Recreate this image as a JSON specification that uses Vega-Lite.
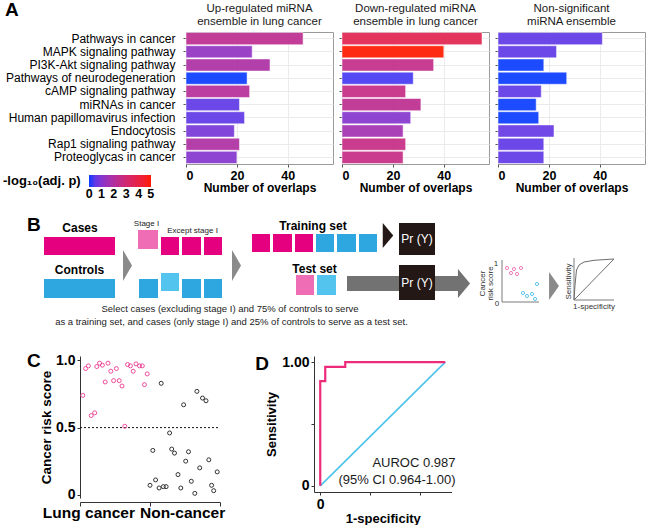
{
  "$schema": "https://vega.github.io/schema/vega-lite/v6.json",
  "autosize": {"type": "none"},
  "padding": {"left": 80, "top": 32, "right": 568, "bottom": 493},
  "background": "white",
  "config": {"font": "Liberation Sans", "view": {"stroke": null}},
  "columns": 4,
  "spacing": {"row": 10, "column": 9},
  "align": "each",
  "bounds": "flush",
  "resolve": {"scale": {"color": "independent", "shape": "independent", "size": "independent"}},
  "datasets": {
    "bars": [
      {"ensemble": "up", "pathway": "Pathways in cancer", "overlaps": 46, "logp": 2.35},
      {"ensemble": "up", "pathway": "MAPK signaling pathway", "overlaps": 26, "logp": 1.25},
      {"ensemble": "up", "pathway": "PI3K-Akt signaling pathway", "overlaps": 33, "logp": 1.9},
      {"ensemble": "up", "pathway": "Pathways of neurodegeneration", "overlaps": 24, "logp": 0},
      {"ensemble": "up", "pathway": "cAMP signaling pathway", "overlaps": 25, "logp": 2.15},
      {"ensemble": "up", "pathway": "miRNAs in cancer", "overlaps": 21, "logp": 0.5},
      {"ensemble": "up", "pathway": "Human papillomavirus infection", "overlaps": 23, "logp": 0.5},
      {"ensemble": "up", "pathway": "Endocytosis", "overlaps": 19, "logp": 0.8},
      {"ensemble": "up", "pathway": "Rap1 signaling pathway", "overlaps": 21, "logp": 1.95},
      {"ensemble": "up", "pathway": "Proteoglycas in cancer", "overlaps": 20, "logp": 1.0},
      {"ensemble": "down", "pathway": "Pathways in cancer", "overlaps": 55, "logp": 3.7},
      {"ensemble": "down", "pathway": "MAPK signaling pathway", "overlaps": 40, "logp": 5},
      {"ensemble": "down", "pathway": "PI3K-Akt signaling pathway", "overlaps": 36, "logp": 2.5},
      {"ensemble": "down", "pathway": "Pathways of neurodegeneration", "overlaps": 28, "logp": 0.25},
      {"ensemble": "down", "pathway": "cAMP signaling pathway", "overlaps": 25, "logp": 2.6},
      {"ensemble": "down", "pathway": "miRNAs in cancer", "overlaps": 31, "logp": 2.35},
      {"ensemble": "down", "pathway": "Human papillomavirus infection", "overlaps": 27, "logp": 1.0},
      {"ensemble": "down", "pathway": "Endocytosis", "overlaps": 24, "logp": 1.65},
      {"ensemble": "down", "pathway": "Rap1 signaling pathway", "overlaps": 25, "logp": 2.6},
      {"ensemble": "down", "pathway": "Proteoglycas in cancer", "overlaps": 24, "logp": 2.6},
      {"ensemble": "ns", "pathway": "Pathways in cancer", "overlaps": 41, "logp": 0.5},
      {"ensemble": "ns", "pathway": "MAPK signaling pathway", "overlaps": 23, "logp": 0.5},
      {"ensemble": "ns", "pathway": "PI3K-Akt signaling pathway", "overlaps": 18, "logp": 0},
      {"ensemble": "ns", "pathway": "Pathways of neurodegeneration", "overlaps": 27, "logp": 0},
      {"ensemble": "ns", "pathway": "cAMP signaling pathway", "overlaps": 17, "logp": 0.5},
      {"ensemble": "ns", "pathway": "miRNAs in cancer", "overlaps": 15, "logp": 0},
      {"ensemble": "ns", "pathway": "Human papillomavirus infection", "overlaps": 16, "logp": 0},
      {"ensemble": "ns", "pathway": "Endocytosis", "overlaps": 22, "logp": 0.55},
      {"ensemble": "ns", "pathway": "Rap1 signaling pathway", "overlaps": 18, "logp": 0.5},
      {"ensemble": "ns", "pathway": "Proteoglycas in cancer", "overlaps": 18, "logp": 0.5}
    ],
    "scores": [
      {"group": "Lung cancer", "pos": 0.04, "score": 0.74},
      {"group": "Lung cancer", "pos": 0.08, "score": 0.94},
      {"group": "Lung cancer", "pos": 0.12, "score": 0.96},
      {"group": "Lung cancer", "pos": 0.16, "score": 0.59},
      {"group": "Lung cancer", "pos": 0.21, "score": 0.61},
      {"group": "Lung cancer", "pos": 0.24, "score": 0.955},
      {"group": "Lung cancer", "pos": 0.28, "score": 0.98},
      {"group": "Lung cancer", "pos": 0.32, "score": 0.965},
      {"group": "Lung cancer", "pos": 0.36, "score": 0.84},
      {"group": "Lung cancer", "pos": 0.40, "score": 0.98},
      {"group": "Lung cancer", "pos": 0.44, "score": 0.92},
      {"group": "Lung cancer", "pos": 0.48, "score": 0.85},
      {"group": "Lung cancer", "pos": 0.52, "score": 0.94},
      {"group": "Lung cancer", "pos": 0.56, "score": 0.85},
      {"group": "Lung cancer", "pos": 0.60, "score": 0.81},
      {"group": "Lung cancer", "pos": 0.64, "score": 0.51},
      {"group": "Lung cancer", "pos": 0.68, "score": 0.97},
      {"group": "Lung cancer", "pos": 0.72, "score": 0.96},
      {"group": "Lung cancer", "pos": 0.76, "score": 0.92},
      {"group": "Lung cancer", "pos": 0.80, "score": 0.975},
      {"group": "Lung cancer", "pos": 0.85, "score": 0.96},
      {"group": "Lung cancer", "pos": 0.89, "score": 0.96},
      {"group": "Lung cancer", "pos": 0.92, "score": 0.82},
      {"group": "Lung cancer", "pos": 0.96, "score": 0.90},
      {"group": "Non-cancer", "pos": 1.00, "score": 0.07},
      {"group": "Non-cancer", "pos": 1.04, "score": 0.33},
      {"group": "Non-cancer", "pos": 1.08, "score": 0.11},
      {"group": "Non-cancer", "pos": 1.13, "score": 0.05},
      {"group": "Non-cancer", "pos": 1.16, "score": 0.83},
      {"group": "Non-cancer", "pos": 1.19, "score": 0.06},
      {"group": "Non-cancer", "pos": 1.23, "score": 0.06},
      {"group": "Non-cancer", "pos": 1.28, "score": 0.46},
      {"group": "Non-cancer", "pos": 1.31, "score": 0.34},
      {"group": "Non-cancer", "pos": 1.35, "score": 0.31},
      {"group": "Non-cancer", "pos": 1.40, "score": 0.15},
      {"group": "Non-cancer", "pos": 1.44, "score": 0.05},
      {"group": "Non-cancer", "pos": 1.48, "score": 0.67},
      {"group": "Non-cancer", "pos": 1.51, "score": 0.25},
      {"group": "Non-cancer", "pos": 1.55, "score": 0.32},
      {"group": "Non-cancer", "pos": 1.59, "score": 0.10},
      {"group": "Non-cancer", "pos": 1.64, "score": 0.01},
      {"group": "Non-cancer", "pos": 1.67, "score": 0.77},
      {"group": "Non-cancer", "pos": 1.71, "score": 0.20},
      {"group": "Non-cancer", "pos": 1.75, "score": 0.72},
      {"group": "Non-cancer", "pos": 1.80, "score": 0.70},
      {"group": "Non-cancer", "pos": 1.84, "score": 0.26},
      {"group": "Non-cancer", "pos": 1.88, "score": 0.07},
      {"group": "Non-cancer", "pos": 1.91, "score": 0.03},
      {"group": "Non-cancer", "pos": 1.96, "score": 0.17}
    ],
    "roc": [
      {"step": 0, "fpr": 0, "tpr": 0},
      {"step": 1, "fpr": 0, "tpr": 0.846},
      {"step": 2, "fpr": 0.04, "tpr": 0.846},
      {"step": 3, "fpr": 0.04, "tpr": 0.962},
      {"step": 4, "fpr": 0.2, "tpr": 0.962},
      {"step": 5, "fpr": 0.2, "tpr": 1},
      {"step": 6, "fpr": 1, "tpr": 1}
    ],
    "diag": [
      {"fpr": 0, "tpr": 0},
      {"fpr": 1, "tpr": 1}
    ],
    "boxes": [
      {"part": "case", "x0": 44, "x1": 115, "y0": 237, "y1": 255},
      {"part": "ctrl", "x0": 44, "x1": 115, "y0": 279, "y1": 298},
      {"part": "case1", "x0": 138, "x1": 158, "y0": 230, "y1": 249},
      {"part": "case", "x0": 161, "x1": 179, "y0": 237, "y1": 255},
      {"part": "case", "x0": 182, "x1": 201, "y0": 237, "y1": 255},
      {"part": "case", "x0": 204, "x1": 222, "y0": 237, "y1": 255},
      {"part": "ctrl", "x0": 139, "x1": 158, "y0": 279, "y1": 298},
      {"part": "ctrl1", "x0": 161, "x1": 179, "y0": 273, "y1": 291},
      {"part": "ctrl", "x0": 182, "x1": 201, "y0": 279, "y1": 298},
      {"part": "ctrl", "x0": 204, "x1": 222, "y0": 279, "y1": 298},
      {"part": "case", "x0": 252, "x1": 270, "y0": 234, "y1": 252},
      {"part": "case", "x0": 273, "x1": 292, "y0": 234, "y1": 252},
      {"part": "case", "x0": 295, "x1": 313, "y0": 234, "y1": 252},
      {"part": "ctrl", "x0": 316, "x1": 334, "y0": 234, "y1": 252},
      {"part": "ctrl", "x0": 337, "x1": 356, "y0": 234, "y1": 252},
      {"part": "ctrl", "x0": 359, "x1": 377, "y0": 234, "y1": 252},
      {"part": "case1", "x0": 296, "x1": 314, "y0": 275, "y1": 295},
      {"part": "ctrl1", "x0": 317, "x1": 336, "y0": 275, "y1": 295},
      {"part": "arrow", "x0": 347, "x1": 459, "y0": 276, "y1": 291},
      {"part": "model", "x0": 399, "x1": 435, "y0": 223, "y1": 255},
      {"part": "model", "x0": 399, "x1": 435, "y0": 265, "y1": 300}
    ],
    "tris": [
      {"tri": "grey1", "cx": 127.5, "cy": 265.5},
      {"tri": "grey2", "cx": 236.5, "cy": 265.5},
      {"tri": "black", "cx": 388, "cy": 235.5},
      {"tri": "arrow", "cx": 464, "cy": 283.5},
      {"tri": "grey3", "cx": 554, "cy": 286}
    ],
    "miniPts": [
      {"grp": "case", "x": 507, "y": 268},
      {"grp": "case", "x": 511, "y": 273},
      {"grp": "case", "x": 514, "y": 269},
      {"grp": "case", "x": 517, "y": 274},
      {"grp": "case", "x": 521, "y": 268},
      {"grp": "ctrl", "x": 523, "y": 293},
      {"grp": "ctrl", "x": 527, "y": 296},
      {"grp": "ctrl", "x": 532, "y": 294},
      {"grp": "ctrl", "x": 535, "y": 299},
      {"grp": "ctrl", "x": 537, "y": 284}
    ],
    "miniAxes": [
      {"x0": 502, "y0": 260, "x1": 502, "y1": 302},
      {"x0": 502, "y0": 302, "x1": 539, "y1": 302},
      {"x0": 574, "y0": 258, "x1": 574, "y1": 300},
      {"x0": 574, "y0": 300, "x1": 614, "y1": 300}
    ],
    "miniCurves": [
      {"series": "roc", "ord": 0, "x": 574, "y": 300},
      {"series": "roc", "ord": 1, "x": 575, "y": 285},
      {"series": "roc", "ord": 2, "x": 576.5, "y": 270},
      {"series": "roc", "ord": 3, "x": 579, "y": 265},
      {"series": "roc", "ord": 4, "x": 584, "y": 262},
      {"series": "roc", "ord": 5, "x": 594, "y": 260.3},
      {"series": "roc", "ord": 6, "x": 614, "y": 259},
      {"series": "diag", "ord": 0, "x": 574, "y": 300},
      {"series": "diag", "ord": 1, "x": 614, "y": 259}
    ]
  },
  "concat": [
    {"width": 97, "height": 1, "data": {"values": []}, "mark": "point", "view": {"stroke": null}},
    {
      "width": 147, "height": 132,
      "view": {"stroke": "#9a9a9a", "strokeWidth": 1},
      "title": {"text": ["Up-regulated miRNA", "ensemble in lung cancer"], "fontSize": 11.5, "fontWeight": "normal", "color": "#1a1a1a", "lineHeight": 13, "offset": 5},
      "data": {"name": "bars"},
      "transform": [{"filter": "datum.ensemble === 'up'"}],
      "mark": {"type": "bar", "stroke": "white", "strokeOpacity": 0.5, "strokeWidth": 1, "fillOpacity": 0.92},
      "encoding": {
        "y": {"field": "pathway", "type": "nominal", "sort": null, "scale": {"paddingInner": 0.08, "paddingOuter": 0.04},
          "axis": {"title": null, "labelFontSize": 12, "labelColor": "black", "labelPadding": 8, "labelLimit": 300, "tickSize": 3, "tickColor": "#555", "domain": false, "grid": true, "gridColor": "#ebebeb", "bandPosition": 0.5}},
        "x": {"field": "overlaps", "type": "quantitative", "scale": {"domain": [0, 57.75], "nice": false, "zero": false},
          "axis": {"values": [0, 20, 40], "title": "Number of overlaps", "titleFontSize": 12, "titleFontWeight": "bold", "titleColor": "black", "titlePadding": 1, "labelFontSize": 12.5, "labelFontWeight": "bold", "labelColor": "black", "labelPadding": 2, "domain": false, "tickSize": 3, "tickColor": "#555", "grid": true, "gridColor": "#ebebeb"}},
        "color": {"field": "logp", "type": "quantitative", "scale": {"type": "linear", "domain": [0, 5], "range": ["#0a3cff", "#ff1a00"], "interpolate": "lab"},
          "legend": {"orient": "none", "legendX": -183, "legendY": 143, "direction": "horizontal", "title": "-log₁₀(adj. p)", "titleOrient": "left", "titleFontSize": 13, "titleFontWeight": "bold", "titleColor": "black", "titlePadding": 8, "gradientLength": 62, "gradientThickness": 12, "gradientStrokeWidth": 0, "labelFontSize": 12.5, "labelFontWeight": "bold", "labelColor": "black", "labelOffset": 1, "labelAlign": "center", "values": [0.02, 1, 2, 3, 4, 4.98], "labelExpr": "'' + round(datum.value)", "labelOverlap": false, "padding": 0}}
      }
    },
    {
      "width": 147, "height": 132,
      "view": {"stroke": "#9a9a9a", "strokeWidth": 1},
      "title": {"text": ["Down-regulated miRNA", "ensemble in lung cancer"], "fontSize": 11.5, "fontWeight": "normal", "color": "#1a1a1a", "lineHeight": 13, "offset": 5},
      "data": {"name": "bars"},
      "transform": [{"filter": "datum.ensemble === 'down'"}],
      "mark": {"type": "bar", "stroke": "white", "strokeOpacity": 0.5, "strokeWidth": 1, "fillOpacity": 0.92},
      "encoding": {
        "y": {"field": "pathway", "type": "nominal", "sort": null, "scale": {"paddingInner": 0.08, "paddingOuter": 0.04},
          "axis": {"labels": false, "title": null, "tickSize": 3, "tickColor": "#555", "domain": false, "grid": true, "gridColor": "#ebebeb", "bandPosition": 0.5}},
        "x": {"field": "overlaps", "type": "quantitative", "scale": {"domain": [0, 57.75], "nice": false, "zero": false},
          "axis": {"values": [0, 20, 40], "title": "Number of overlaps", "titleFontSize": 12, "titleFontWeight": "bold", "titleColor": "black", "titlePadding": 1, "labelFontSize": 12.5, "labelFontWeight": "bold", "labelColor": "black", "labelPadding": 2, "domain": false, "tickSize": 3, "tickColor": "#555", "grid": true, "gridColor": "#ebebeb"}},
        "color": {"field": "logp", "type": "quantitative", "scale": {"type": "linear", "domain": [0, 5], "range": ["#0a3cff", "#ff1a00"], "interpolate": "lab"}, "legend": null}
      }
    },
    {
      "width": 147, "height": 132,
      "view": {"stroke": "#9a9a9a", "strokeWidth": 1},
      "title": {"text": ["Non-significant", "miRNA ensemble"], "fontSize": 11.5, "fontWeight": "normal", "color": "#1a1a1a", "lineHeight": 13, "offset": 5},
      "data": {"name": "bars"},
      "transform": [{"filter": "datum.ensemble === 'ns'"}],
      "mark": {"type": "bar", "stroke": "white", "strokeOpacity": 0.5, "strokeWidth": 1, "fillOpacity": 0.92},
      "encoding": {
        "y": {"field": "pathway", "type": "nominal", "sort": null, "scale": {"paddingInner": 0.08, "paddingOuter": 0.04},
          "axis": {"labels": false, "title": null, "tickSize": 3, "tickColor": "#555", "domain": false, "grid": true, "gridColor": "#ebebeb", "bandPosition": 0.5}},
        "x": {"field": "overlaps", "type": "quantitative", "scale": {"domain": [0, 57.75], "nice": false, "zero": false},
          "axis": {"values": [0, 20, 40], "title": "Number of overlaps", "titleFontSize": 12, "titleFontWeight": "bold", "titleColor": "black", "titlePadding": 1, "labelFontSize": 12.5, "labelFontWeight": "bold", "labelColor": "black", "labelPadding": 2, "domain": false, "tickSize": 3, "tickColor": "#555", "grid": true, "gridColor": "#ebebeb"}},
        "color": {"field": "logp", "type": "quantitative", "scale": {"type": "linear", "domain": [0, 5], "range": ["#0a3cff", "#ff1a00"], "interpolate": "lab"}, "legend": null}
      }
    },
    {
      "width": 97, "height": 172,
      "view": {"stroke": null},
      "resolve": {"scale": {"color": "independent", "shape": "independent"}},
      "layer": [
        {
          "data": {"name": "boxes"},
          "mark": {"type": "rect"},
          "encoding": {
            "x": {"field": "x0", "type": "quantitative", "scale": {"domain": [80, 177], "nice": false, "zero": false}, "axis": null},
            "x2": {"field": "x1"},
            "y": {"field": "y0", "type": "quantitative", "scale": {"domain": [174, 346], "nice": false, "zero": false, "reverse": true}, "axis": null},
            "y2": {"field": "y1"},
            "color": {"field": "part", "type": "nominal", "scale": {"domain": ["case", "ctrl", "case1", "ctrl1", "model", "arrow"], "range": ["#E4007F", "#2EA7E0", "#EF6DB4", "#52C4EE", "#231815", "#727272"]}, "legend": null}
          }
        },
        {
          "data": {"name": "tris"},
          "mark": {"type": "point", "filled": true, "size": 961, "opacity": 1, "strokeWidth": 0},
          "encoding": {
            "x": {"field": "cx", "type": "quantitative", "scale": {"domain": [80, 177], "nice": false, "zero": false}, "axis": null},
            "y": {"field": "cy", "type": "quantitative", "scale": {"domain": [174, 346], "nice": false, "zero": false, "reverse": true}, "axis": null},
            "shape": {"field": "tri", "type": "nominal", "scale": {"domain": ["grey1", "grey2", "black", "arrow", "grey3"], "range": ["M-0.29,-1L0.29,0L-0.29,1Z", "M-0.29,-1L0.29,0L-0.29,1Z", "M-0.34,-0.81L0.34,0L-0.34,0.81Z", "M-0.39,-0.94L0.39,0L-0.39,0.94Z", "M-0.32,-0.9L0.32,0L-0.32,0.9Z"]}, "legend": null},
            "color": {"field": "tri", "type": "nominal", "scale": {"domain": ["grey1", "grey2", "black", "arrow", "grey3"], "range": ["#8a8a8a", "#8a8a8a", "#231815", "#727272", "#8a8a8a"]}, "legend": null}
          }
        },
        {
          "data": {"name": "miniAxes"},
          "mark": {"type": "rule", "color": "#7a7a7a", "strokeWidth": 1},
          "encoding": {
            "x": {"field": "x0", "type": "quantitative", "scale": {"domain": [80, 177], "nice": false, "zero": false}, "axis": null},
            "y": {"field": "y0", "type": "quantitative", "scale": {"domain": [174, 346], "nice": false, "zero": false, "reverse": true}, "axis": null},
            "x2": {"field": "x1"},
            "y2": {"field": "y1"}
          }
        },
        {
          "data": {"name": "miniCurves"},
          "mark": {"type": "line", "color": "#6e6e6e", "strokeWidth": 1},
          "encoding": {
            "x": {"field": "x", "type": "quantitative", "scale": {"domain": [80, 177], "nice": false, "zero": false}, "axis": null},
            "y": {"field": "y", "type": "quantitative", "scale": {"domain": [174, 346], "nice": false, "zero": false, "reverse": true}, "axis": null},
            "detail": {"field": "series"},
            "order": {"field": "ord"}
          }
        },
        {
          "data": {"name": "miniPts"},
          "mark": {"type": "point", "shape": "circle", "filled": false, "size": 10, "strokeWidth": 1, "opacity": 1},
          "encoding": {
            "x": {"field": "x", "type": "quantitative", "scale": {"domain": [80, 177], "nice": false, "zero": false}, "axis": null},
            "y": {"field": "y", "type": "quantitative", "scale": {"domain": [174, 346], "nice": false, "zero": false, "reverse": true}, "axis": null},
            "color": {"field": "grp", "type": "nominal", "scale": {"domain": ["case", "ctrl"], "range": ["#F07DB9", "#5EC6EE"]}, "legend": null}
          }
        },
        {
          "data": {"values": [{"t": "A", "x": 5, "y": 16}, {"t": "B", "x": 27, "y": 231}]},
          "mark": {"type": "text", "align": "left", "baseline": "alphabetic", "fontSize": 19, "fontWeight": "bold", "color": "black"},
          "encoding": {
            "x": {"field": "x", "type": "quantitative", "scale": {"domain": [80, 177], "nice": false, "zero": false}, "axis": null},
            "y": {"field": "y", "type": "quantitative", "scale": {"domain": [174, 346], "nice": false, "zero": false, "reverse": true}, "axis": null},
            "text": {"field": "t"}
          }
        },
        {
          "data": {"values": [{"t": "Cases", "x": 80, "y": 228}, {"t": "Controls", "x": 79.5, "y": 270}, {"t": "Training set", "x": 313, "y": 226}, {"t": "Test set", "x": 314.5, "y": 268.5}]},
          "mark": {"type": "text", "align": "center", "baseline": "middle", "fontSize": 12, "fontWeight": "bold", "color": "black"},
          "encoding": {
            "x": {"field": "x", "type": "quantitative", "scale": {"domain": [80, 177], "nice": false, "zero": false}, "axis": null},
            "y": {"field": "y", "type": "quantitative", "scale": {"domain": [174, 346], "nice": false, "zero": false, "reverse": true}, "axis": null},
            "text": {"field": "t"}
          }
        },
        {
          "data": {"values": [{"t": "Stage I", "x": 146.5, "y": 224}, {"t": "Except stage I", "x": 192.5, "y": 231}]},
          "mark": {"type": "text", "align": "center", "baseline": "middle", "fontSize": 8, "color": "#222"},
          "encoding": {
            "x": {"field": "x", "type": "quantitative", "scale": {"domain": [80, 177], "nice": false, "zero": false}, "axis": null},
            "y": {"field": "y", "type": "quantitative", "scale": {"domain": [174, 346], "nice": false, "zero": false, "reverse": true}, "axis": null},
            "text": {"field": "t"}
          }
        },
        {
          "data": {"values": [{"t": "Pr (Y)", "x": 417, "y": 239}, {"t": "Pr (Y)", "x": 417, "y": 282.5}]},
          "mark": {"type": "text", "align": "center", "baseline": "middle", "fontSize": 12, "color": "white"},
          "encoding": {
            "x": {"field": "x", "type": "quantitative", "scale": {"domain": [80, 177], "nice": false, "zero": false}, "axis": null},
            "y": {"field": "y", "type": "quantitative", "scale": {"domain": [174, 346], "nice": false, "zero": false, "reverse": true}, "axis": null},
            "text": {"field": "t"}
          }
        },
        {
          "data": {"values": [{"t": "Select cases (excluding stage I) and 75% of controls to serve", "x": 230, "y": 309}, {"t": "as a training set, and cases (only stage I) and 25% of controls to serve as a test set.", "x": 231.5, "y": 322}]},
          "mark": {"type": "text", "align": "center", "baseline": "middle", "fontSize": 9.5, "color": "#222"},
          "encoding": {
            "x": {"field": "x", "type": "quantitative", "scale": {"domain": [80, 177], "nice": false, "zero": false}, "axis": null},
            "y": {"field": "y", "type": "quantitative", "scale": {"domain": [174, 346], "nice": false, "zero": false, "reverse": true}, "axis": null},
            "text": {"field": "t"}
          }
        },
        {
          "data": {"values": [{"t": "1", "x": 496, "y": 264}, {"t": "0", "x": 497, "y": 304}, {"t": "1-specificity", "x": 594, "y": 307}]},
          "mark": {"type": "text", "align": "center", "baseline": "middle", "fontSize": 8, "color": "#333"},
          "encoding": {
            "x": {"field": "x", "type": "quantitative", "scale": {"domain": [80, 177], "nice": false, "zero": false}, "axis": null},
            "y": {"field": "y", "type": "quantitative", "scale": {"domain": [174, 346], "nice": false, "zero": false, "reverse": true}, "axis": null},
            "text": {"field": "t"}
          }
        },
        {
          "data": {"values": [{"t": "Cancer\nrisk score", "x": 482.5, "y": 283.5}, {"t": "Sensitivity", "x": 568.5, "y": 281.5}]},
          "mark": {"type": "text", "align": "center", "baseline": "middle", "fontSize": 8, "angle": 270, "lineBreak": "\n", "lineHeight": 8.5, "color": "#333"},
          "encoding": {
            "x": {"field": "x", "type": "quantitative", "scale": {"domain": [80, 177], "nice": false, "zero": false}, "axis": null},
            "y": {"field": "y", "type": "quantitative", "scale": {"domain": [174, 346], "nice": false, "zero": false, "reverse": true}, "axis": null},
            "text": {"field": "t"}
          }
        }
      ]
    },
    {"width": 1, "height": 1, "data": {"values": []}, "mark": "point", "view": {"stroke": null}},
    {"width": 1, "height": 1, "data": {"values": []}, "mark": "point", "view": {"stroke": null}},
    {"width": 1, "height": 1, "data": {"values": []}, "mark": "point", "view": {"stroke": null}},
    {
      "width": 97, "height": 142,
      "view": {"stroke": null},
      "layer": [
        {
          "data": {"values": [{"cut": 0.5}]},
          "mark": {"type": "rule", "strokeDash": [2, 2], "color": "#111", "strokeWidth": 1},
          "encoding": {
            "x": {"datum": 0, "type": "quantitative", "scale": {"domain": [0, 2], "range": [0, 140], "nice": false, "zero": false}},
            "x2": {"datum": 2},
            "y": {"field": "cut", "type": "quantitative", "scale": {"domain": [-0.0246, 1.0335], "nice": false, "zero": false}}
          }
        },
        {
          "data": {"name": "scores"},
          "mark": {"type": "point", "shape": "circle", "filled": false, "size": 16, "strokeWidth": 1, "opacity": 1},
          "encoding": {
            "x": {"field": "pos", "type": "quantitative", "scale": {"domain": [0, 2], "range": [0, 140], "nice": false, "zero": false},
              "axis": {"values": [0, 1, 2], "labels": false, "title": null, "offset": 4, "tickSize": 4, "domainColor": "#333", "tickColor": "#333", "grid": false}},
            "y": {"field": "score", "type": "quantitative", "scale": {"domain": [-0.0246, 1.0335], "nice": false, "zero": false},
              "axis": {"values": [0, 0.5, 1], "labelExpr": "datum.value === 0 ? '0' : format(datum.value, '.1f')", "title": "Cancer risk score", "titleFontSize": 13.5, "titleFontWeight": "bold", "titleColor": "black", "titlePadding": 2, "labelFontSize": 14, "labelFontWeight": "bold", "labelColor": "black", "labelPadding": 2, "tickSize": 3, "domainColor": "#333", "tickColor": "#333", "grid": false}},
            "color": {"field": "group", "type": "nominal", "scale": {"domain": ["Lung cancer", "Non-cancer"], "range": ["#EE4C9B", "#333333"]}, "legend": null}
          }
        },
        {
          "data": {"values": [{"label": "Lung cancer"}]},
          "mark": {"type": "text", "align": "right", "baseline": "middle", "fontSize": 15.5, "fontWeight": "bold", "color": "black"},
          "encoding": {
            "x": {"datum": 0.786, "type": "quantitative", "scale": {"domain": [0, 2], "range": [0, 140], "nice": false, "zero": false}},
            "y": {"datum": -0.136, "type": "quantitative", "scale": {"domain": [-0.0246, 1.0335], "nice": false, "zero": false}},
            "text": {"field": "label"}
          }
        },
        {
          "data": {"values": [{"label": "Non-cancer"}]},
          "mark": {"type": "text", "align": "left", "baseline": "middle", "fontSize": 15.5, "fontWeight": "bold", "color": "black"},
          "encoding": {
            "x": {"datum": 0.857, "type": "quantitative", "scale": {"domain": [0, 2], "range": [0, 140], "nice": false, "zero": false}},
            "y": {"datum": -0.136, "type": "quantitative", "scale": {"domain": [-0.0246, 1.0335], "nice": false, "zero": false}},
            "text": {"field": "label"}
          }
        },
        {
          "data": {"values": [{"label": "C"}]},
          "mark": {"type": "text", "align": "left", "baseline": "alphabetic", "fontSize": 19, "fontWeight": "bold", "color": "black"},
          "encoding": {
            "x": {"datum": -0.757, "type": "quantitative", "scale": {"domain": [0, 2], "range": [0, 140], "nice": false, "zero": false}},
            "y": {"datum": 0.952, "type": "quantitative", "scale": {"domain": [-0.0246, 1.0335], "nice": false, "zero": false}},
            "text": {"field": "label"}
          }
        }
      ]
    },
    {
      "width": 138, "height": 136,
      "view": {"stroke": null},
      "layer": [
        {
          "data": {"name": "diag"},
          "mark": {"type": "line", "color": "#4DC3EA", "strokeWidth": 1.6},
          "encoding": {
            "x": {"field": "fpr", "type": "quantitative", "scale": {"domain": [-0.05, 1.05], "range": [128, 265.5], "nice": false, "zero": false},
              "axis": {"values": [0, 0.2, 0.4, 0.6, 0.8, 1], "labelExpr": "datum.value === 0 ? '0' : (datum.value === 1 ? '1.00' : '')", "labelOverlap": false, "title": "1-specificity", "titleFontSize": 13, "titleFontWeight": "bold", "titleColor": "black", "titlePadding": 1, "labelFontSize": 14, "labelFontWeight": "bold", "labelColor": "black", "labelPadding": 2, "tickSize": 3, "domainColor": "#333", "tickColor": "#333", "grid": false}},
            "y": {"field": "tpr", "type": "quantitative", "scale": {"domain": [-0.05, 1.05], "nice": false, "zero": false},
              "axis": {"offset": -128, "values": [0, 0.25, 0.5, 0.75, 1], "labelExpr": "datum.value === 0 ? '0' : (datum.value === 1 ? '1.00' : '')", "labelOverlap": false, "title": "Sensitivity", "titleFontSize": 13, "titleFontWeight": "bold", "titleColor": "black", "titlePadding": 3, "labelFontSize": 14, "labelFontWeight": "bold", "labelColor": "black", "labelPadding": 2, "tickSize": 3, "domainColor": "#333", "tickColor": "#333", "grid": false}}
          }
        },
        {
          "data": {"name": "roc"},
          "mark": {"type": "line", "color": "#EE2A7B", "strokeWidth": 2.2, "strokeJoin": "miter"},
          "encoding": {
            "x": {"field": "fpr", "type": "quantitative", "scale": {"domain": [-0.05, 1.05], "range": [128, 265.5], "nice": false, "zero": false}},
            "y": {"field": "tpr", "type": "quantitative", "scale": {"domain": [-0.05, 1.05], "nice": false, "zero": false}},
            "order": {"field": "step"}
          }
        },
        {
          "data": {"values": [{"label": "AUROC"}]},
          "mark": {"type": "text", "text": ["AUROC 0.987", "(95% CI 0.964-1.00)"], "align": "right", "baseline": "middle", "fontSize": 13, "lineHeight": 17, "color": "#1a1a1a"},
          "encoding": {
            "x": {"datum": 1.082, "type": "quantitative", "scale": {"domain": [-0.05, 1.05], "range": [128, 265.5], "nice": false, "zero": false}},
            "y": {"datum": 0.184, "type": "quantitative", "scale": {"domain": [-0.05, 1.05], "nice": false, "zero": false}}
          }
        },
        {
          "data": {"values": [{"label": "D"}]},
          "mark": {"type": "text", "align": "left", "baseline": "alphabetic", "fontSize": 19, "fontWeight": "bold", "color": "black"},
          "encoding": {
            "x": {"datum": -0.52, "type": "quantitative", "scale": {"domain": [-0.05, 1.05], "range": [128, 265.5], "nice": false, "zero": false}},
            "y": {"datum": 0.934, "type": "quantitative", "scale": {"domain": [-0.05, 1.05], "nice": false, "zero": false}},
            "text": {"field": "label"}
          }
        }
      ]
    }
  ]
}
